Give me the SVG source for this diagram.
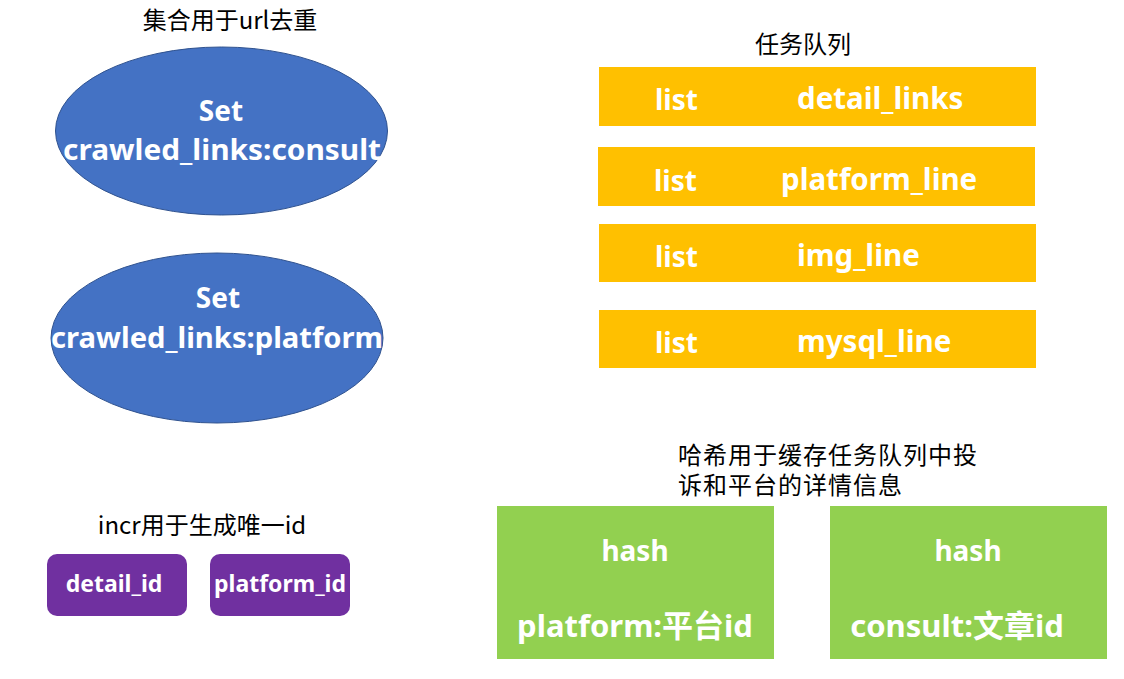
<svg xmlns="http://www.w3.org/2000/svg" width="1124" height="679" viewBox="0 0 1124 679">
<style>
.title{font-family:"Noto Sans CJK SC","Noto Sans",sans-serif;font-size:24px;fill:#000;}
.title2{font-family:"Liberation Sans","Noto Sans CJK SC",sans-serif;font-size:24px;fill:#000;}
.wb{font-family:"Noto Sans","Noto Sans CJK SC",sans-serif;font-weight:bold;fill:#fff;}
.set{fill:#4472C4;stroke:#2F528F;stroke-width:1;}
.bar{fill:#FFC000;}
.pur{fill:#7030A0;}
.grn{fill:#92D050;}
</style>
<rect width="1124" height="679" fill="#fff"/>
<g id="label-set"><text class="title" x="230" y="29" text-anchor="middle">集合用于url去重</text></g>
<g id="set-consult">
<ellipse class="set" cx="221.5" cy="131" rx="166" ry="84"/>
<text class="wb" x="221" y="121" font-size="28" text-anchor="middle">Set</text>
<text class="wb" x="222" y="160" font-size="28" text-anchor="middle" textLength="318" lengthAdjust="spacingAndGlyphs">crawled_links:consult</text>
</g>
<g id="set-platform">
<ellipse class="set" cx="217" cy="338" rx="166" ry="85"/>
<text class="wb" x="218" y="308" font-size="28" text-anchor="middle">Set</text>
<text class="wb" x="217" y="348" font-size="28" text-anchor="middle" textLength="332" lengthAdjust="spacingAndGlyphs">crawled_links:platform</text>
</g>
<g id="label-queue"><text class="title" x="803" y="53" text-anchor="middle">任务队列</text></g>
<g id="list-detail">
<rect class="bar" x="599" y="67" width="437" height="59"/>
<text class="wb" x="655" y="110" font-size="28">list</text>
<text class="wb" x="797" y="109" font-size="29.5">detail_links</text>
</g>
<g id="list-platform">
<rect class="bar" x="598" y="147" width="437" height="59"/>
<text class="wb" x="654" y="191" font-size="28">list</text>
<text class="wb" x="781" y="190" font-size="29.5">platform_line</text>
</g>
<g id="list-img">
<rect class="bar" x="599" y="224" width="437" height="58"/>
<text class="wb" x="655" y="267" font-size="28">list</text>
<text class="wb" x="797" y="266" font-size="29.5">img_line</text>
</g>
<g id="list-mysql">
<rect class="bar" x="599" y="310" width="437" height="58"/>
<text class="wb" x="655" y="353" font-size="28">list</text>
<text class="wb" x="797" y="352" font-size="29.5">mysql_line</text>
</g>
<g id="label-incr"><text class="title" x="202" y="534" text-anchor="middle">incr用于生成唯一id</text></g>
<g id="incr-detail">
<rect class="pur" x="47" y="554" width="140" height="62" rx="10"/>
<text class="wb" x="114" y="592" font-size="23" text-anchor="middle">detail_id</text>
</g>
<g id="incr-platform">
<rect class="pur" x="210" y="554" width="140" height="62" rx="10"/>
<text class="wb" x="280" y="592" font-size="23" text-anchor="middle">platform_id</text>
</g>
<g id="label-hash">
<text class="title2" x="678" y="464" letter-spacing="1">哈希用于缓存任务队列中投</text>
<text class="title2" x="678" y="494" letter-spacing="1">诉和平台的详情信息</text>
</g>
<g id="hash-platform">
<rect class="grn" x="497" y="506" width="277" height="153"/>
<text class="wb" x="635" y="561" font-size="28" text-anchor="middle">hash</text>
<text class="wb" x="635" y="637" font-size="31" text-anchor="middle">platform:平台id</text>
</g>
<g id="hash-consult">
<rect class="grn" x="830" y="506" width="277" height="153"/>
<text class="wb" x="968" y="561" font-size="28" text-anchor="middle">hash</text>
<text class="wb" x="957" y="637" font-size="31" text-anchor="middle">consult:文章id</text>
</g>
<g id="connectors"/>
</svg>
